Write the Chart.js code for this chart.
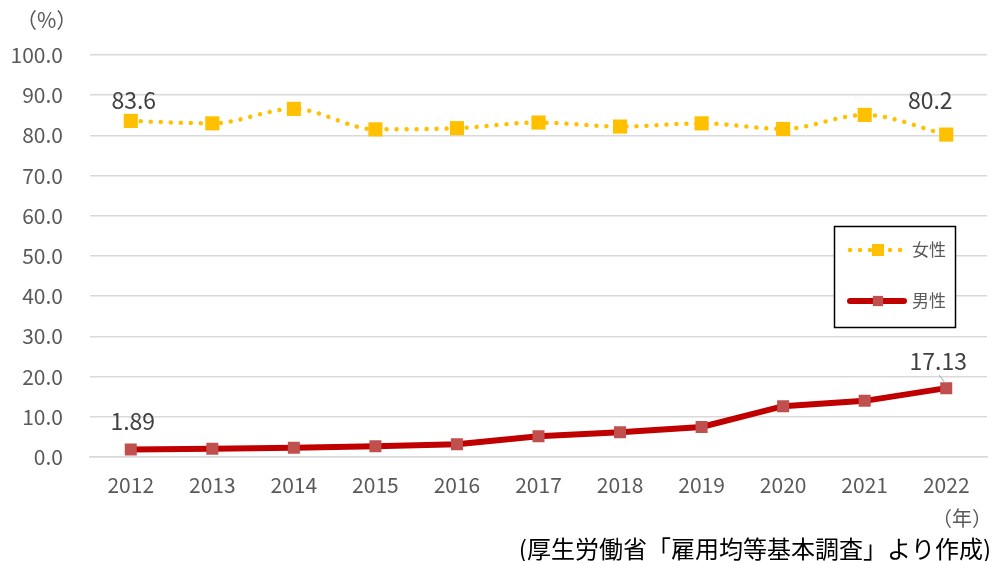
<!DOCTYPE html>
<html><head><meta charset="utf-8">
<script src="https://cdn.jsdelivr.net/npm/chart.js@4"></script>
<style>html,body{margin:0;padding:0;background:#fff;}#wrap{width:992px;height:561px;position:relative;}</style>
</head><body><div id="wrap"><canvas id="c" width="992" height="561"></canvas></div>
<script>
const years = ['2012','2013','2014','2015','2016','2017','2018','2019','2020','2021','2022'];
const femaleRates = [83.6, 83.0, 86.6, 81.5, 81.8, 83.2, 82.2, 83.0, 81.6, 85.1, 80.2];
const maleRates = [1.89, 2.03, 2.30, 2.65, 3.16, 5.14, 6.16, 7.48, 12.65, 13.97, 17.13];
const seriesNames = ['女性', '男性'];
const yTicks = [0,10,20,30,40,50,60,70,80,90,100];
const labelled = [{ds:0,i:0,text:'83.6'},{ds:0,i:10,text:'80.2'},{ds:1,i:0,text:'1.89'},{ds:1,i:10,text:'17.13'}];

const FONT = '"Noto Sans CJK JP", "Noto Sans", sans-serif';

const extras = {
  id:'extras',
  afterDraw(chart){
    const ctx = chart.ctx;
    ctx.save();
    // unit labels
    ctx.fillStyle = '#595959';
    ctx.font = '21px ' + FONT;
    ctx.textAlign = 'left'; ctx.textBaseline = 'middle';
    ctx.fillText('（%）', 16, 20);
    ctx.textAlign = 'right';
    ctx.font = '20px ' + FONT;
    ctx.fillText('（年）', 992, 518);
    ctx.fillStyle = '#000';
    ctx.font = '24px ' + FONT;
    ctx.fillText('(厚生労働省「雇用均等基本調査」より作成)', 991, 549);
    // data labels
    ctx.fillStyle = '#404040';
    ctx.font = '23px ' + FONT;
    ctx.textAlign = 'center';
    const offs = {'0-0':[3,-21],'0-10':[-16,-34],'1-0':[2,-28],'1-10':[-8,-27]};
    labelled.forEach(l=>{
      const p = chart.getDatasetMeta(l.ds).data[l.i];
      const o = offs[l.ds+'-'+l.i];
      ctx.fillText(l.text, p.x+o[0], p.y+o[1]);
      if(l.ds===1 && l.i===10){
        ctx.strokeStyle = '#A6A6A6'; ctx.lineWidth = 1;
        ctx.beginPath(); ctx.moveTo(p.x-7, p.y-13); ctx.lineTo(p.x-1, p.y-5); ctx.stroke();
      }
    });
    // legend
    ctx.fillStyle = '#fff';
    ctx.fillRect(834,226,122,102);
    ctx.strokeStyle = '#000'; ctx.lineWidth = 1.5;
    ctx.strokeRect(834.5,226.5,121,101);
    const items = [{y:250, ds:chart.data.datasets[0]},{y:301, ds:chart.data.datasets[1]}];
    items.forEach(it=>{
      const d = it.ds;
      ctx.strokeStyle = d.borderColor; ctx.lineWidth = d.borderWidth; ctx.lineCap = 'round';
      ctx.setLineDash(d.borderDash || []);
      ctx.beginPath(); ctx.moveTo(850, it.y); ctx.lineTo(904, it.y); ctx.stroke();
      ctx.setLineDash([]);
      const s = d.pointRadius*Math.SQRT1_2*0.85;
      ctx.fillStyle = d.pointBackgroundColor;
      ctx.fillRect(878-s, it.y-s, 2*s, 2*s);
      ctx.fillStyle = '#595959';
      ctx.font = '17px ' + FONT;
      ctx.textAlign = 'left'; ctx.textBaseline='middle';
      ctx.fillText(d.label, 912, it.y);
    });
    ctx.restore();
  }
};

new Chart(document.getElementById('c'), {
  type:'line',
  data:{
    labels: years,
    datasets:[
      {label:seriesNames[0], data:femaleRates, borderColor:'#FFC000', backgroundColor:'#FFC000',
       borderWidth:4.5, borderDash:[0.01,10], borderCapStyle:'round', pointStyle:'rect', pointRadius:10,
       pointBackgroundColor:'#FFC000', pointBorderWidth:0, tension:0.3, cubicInterpolationMode:'monotone'},
      {label:seriesNames[1], data:maleRates, borderColor:'#C00000', backgroundColor:'#C0504D',
       borderWidth:6, pointStyle:'rect', pointRadius:8.5, pointBackgroundColor:'#C0504D',
       pointBorderWidth:0, tension:0}
    ]
  },
  options:{
    responsive:false, animation:false,
    layout:{autoPadding:false, padding:{top:55,right:5,left:0,bottom:0}},
    plugins:{legend:{display:false}, tooltip:{enabled:false}},
    scales:{
      x:{offset:true,
         grid:{display:false, drawTicks:false},
         border:{display:true, color:'#D9D9D9', width:1.5},
         ticks:{color:'#595959', font:{family:FONT, size:21}, padding:15},
         afterFit(s){ s.height = 104; s.paddingLeft = 0; s.paddingRight = 0; }},
      y:{min:0,max:100,
         afterBuildTicks(s){ s.ticks = yTicks.map(v=>({value:v})); },
         grid:{color:'#D9D9D9', lineWidth:1.5, drawTicks:false},
         border:{display:false},
         ticks:{color:'#595959', font:{family:FONT, size:21}, padding:27, callback:v=>v.toFixed(1)},
         afterFit(s){ s.width = 90; }}
    }
  },
  plugins:[extras]
});
</script></body></html>
